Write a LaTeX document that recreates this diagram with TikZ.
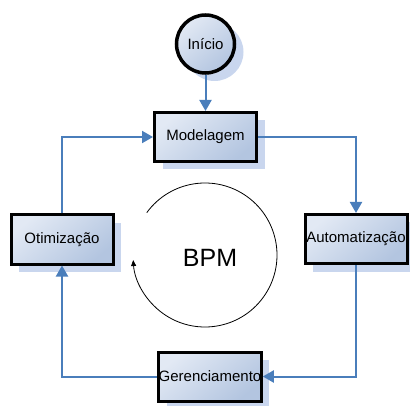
\documentclass[tikz,border=0pt]{standalone}
\usepackage{fontspec}
\setmainfont{Liberation Sans}
\usetikzlibrary{arrows.meta,shadows}
\definecolor{bluea}{HTML}{E2E9F4}
\definecolor{blueb}{HTML}{B3C5E0}
\definecolor{shadowc}{HTML}{C9D6EE}
\definecolor{linec}{HTML}{4A7EBB}
\tikzset{
  procbox/.style={draw=black, line width=3pt, minimum width=102pt, minimum height=49pt,
    inner sep=0pt, top color=bluea, bottom color=blueb, shading angle=40,
    font=\fontsize{15}{18}\selectfont,
    drop shadow={shadow xshift=8pt, shadow yshift=-8pt, fill=shadowc, opacity=1}},
  startnode/.style={circle, draw=black, line width=3.5pt, minimum size=58pt, inner sep=0pt,
    top color=bluea, bottom color=blueb, shading angle=40,
    font=\fontsize{15}{18}\selectfont,
    drop shadow={shadow xshift=9pt, shadow yshift=-8pt, fill=shadowc, opacity=1}},
  conn/.style={draw=linec, line width=2pt, -{Triangle[width=12pt,length=11pt]}},
  plain/.style={draw=linec, line width=2pt}
}
\begin{document}
\begin{tikzpicture}[x=1pt,y=1pt]
\useasboundingbox (0,0) rectangle (410,405);
\node[startnode] (ini) at (205.5,361) {Início};
\node[procbox] (mod) at (205.5,268) {Modelagem};
\node[procbox] (oti) at (62,165.5) {Otimização};
\node[procbox] (aut) at (356,166) {Automatização};
\node[procbox] (ger) at (210,28.5) {Gerenciamento};
\draw[conn] (ini.south) -- (mod.north);
\draw[conn] (mod.east) -| (aut.north);
\draw[conn] (aut.south) |- (ger.east);
\draw[conn] (ger.west) -| (oti.south);
\draw[conn] (oti.north) |- (mod.west);
\coordinate (cc) at (205,150);
\draw[line width=0.8pt, -{Triangle[width=5pt,length=6pt]}] ([shift={(144:72pt)}]cc) arc[start angle=144, end angle=-176, radius=72pt];
\node[font=\fontsize{25}{30}\selectfont] (bpm) at (210,147.5) {BPM};
\end{tikzpicture}
\end{document}
